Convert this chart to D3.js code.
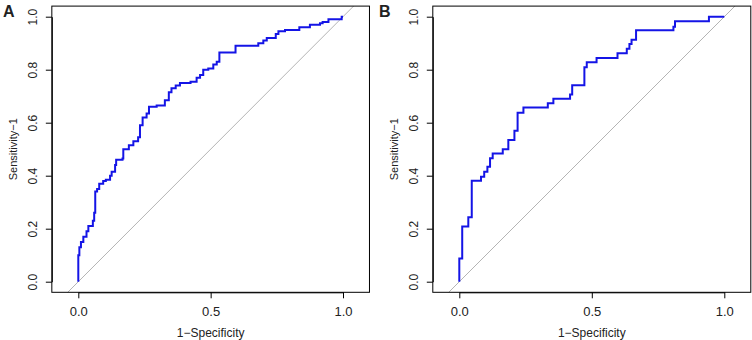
<!DOCTYPE html>
<html><head><meta charset="utf-8">
<script src="https://cdn.jsdelivr.net/npm/d3@7"></script>
<style>body{margin:0;background:#fff}svg{display:block}text{font-family:"Liberation Sans",Arial,sans-serif;fill:#222}</style>
</head><body>
<script>
// Panel A ROC points (1-Specificity, Sensitivity)
const fprA = [0,0,0.004,0.010,0.019,0.031,0.038,0.055,0.060,0.064,0.071,0.079,0.094,0.104,0.120,0.126,0.139,0.143,0.167,0.170,0.191,0.208,0.226,0.233,0.243,0.258,0.267,0.296,0.327,0.342,0.352,0.368,0.384,0.424,0.447,0.460,0.472,0.491,0.510,0.523,0.533,0.594,0.680,0.699,0.712,0.746,0.756,0.781,0.835,0.875,0.913,0.923,0.945,0.995,1];
const tprA = [0,0.10,0.13,0.15,0.17,0.19,0.21,0.23,0.26,0.34,0.35,0.37,0.38,0.385,0.40,0.415,0.44,0.46,0.465,0.50,0.515,0.53,0.545,0.59,0.62,0.635,0.66,0.665,0.685,0.715,0.73,0.74,0.75,0.755,0.77,0.78,0.80,0.805,0.82,0.83,0.865,0.89,0.90,0.91,0.92,0.935,0.945,0.95,0.96,0.97,0.975,0.98,0.99,1.0,1];
// Panel B ROC points
const fprB = [0,0,0.011,0.034,0.047,0.082,0.094,0.106,0.116,0.126,0.164,0.185,0.208,0.220,0.242,0.334,0.355,0.418,0.426,0.472,0.481,0.518,0.597,0.632,0.642,0.650,0.667,0.808,0.814,0.942,1];
const tprB = [0,0.088,0.208,0.243,0.381,0.396,0.415,0.434,0.466,0.484,0.50,0.535,0.57,0.638,0.657,0.673,0.69,0.706,0.741,0.809,0.828,0.844,0.862,0.879,0.897,0.913,0.949,0.962,0.983,1.0,1];
const xTicks = [0,0.5,1];
const yTicks = [0,0.2,0.4,0.6,0.8,1.0];
const panelLabels = ["A","B"];
const xTitle = "1\u2212Specificity";
const yTitle = "Sensitivity\u22121";

const W = 752, H = 340;
const svg = d3.select("body").append("svg").attr("width",W).attr("height",H);

const panels = [
  {label:panelLabels[0], fpr:fprA, tpr:tprA, ox:0, x0:78.3, x1:343.0},
  {label:panelLabels[1], fpr:fprB, tpr:tprB, ox:376, x0:459.3, x1:724.3}
];

panels.forEach((p,i)=>{
  const x = d3.scaleLinear().domain([0,1]).range([p.x0,p.x1]);
  const y = d3.scaleLinear().domain([0,1]).range([281.7,16.7]);
  const bx0 = x(-0.1), bx1 = x(1.1), by0 = y(-0.04), by1 = y(1.04);
  const g = svg.append("g");
  const cid = "clip"+i;
  g.append("clipPath").attr("id",cid).append("rect")
    .attr("x",bx0).attr("y",by1).attr("width",bx1-bx0).attr("height",by0-by1);
  // diagonal
  g.append("line").attr("clip-path",`url(#${cid})`)
    .attr("x1",x(-0.2)).attr("y1",y(-0.2)).attr("x2",x(1.2)).attr("y2",y(1.2))
    .attr("stroke","#b4b4b4").attr("stroke-width",1);
  // curve
  const pts = p.fpr.map((f,k)=>[f,p.tpr[k]]);
  g.append("path").datum(pts)
    .attr("d", d3.line().x(d=>x(d[0])).y(d=>y(d[1])).curve(d3.curveStepAfter))
    .attr("fill","none").attr("stroke","#1414e6").attr("stroke-width",2);
  // box
  g.append("rect").attr("x",bx0).attr("y",by1).attr("width",bx1-bx0).attr("height",by0-by1)
    .attr("fill","none").attr("stroke","#000").attr("stroke-width",1);
  // x axis
  const xa = g.append("g").attr("transform",`translate(0,${by0})`)
    .call(d3.axisBottom(x).tickValues(xTicks).tickFormat(d3.format(".1f")).tickSize(6).tickSizeOuter(0));
  xa.selectAll("text").attr("font-size","13px").attr("font-family","Liberation Sans, Arial, sans-serif").attr("fill","#222").attr("dy","0").attr("y",24);
  xa.selectAll("line,path").attr("stroke","#000");
  // y axis
  const ya = g.append("g").attr("transform",`translate(${bx0},0)`)
    .call(d3.axisLeft(y).tickValues(yTicks).tickFormat(d3.format(".1f")).tickSize(6).tickSizeOuter(0));
  ya.selectAll("text").attr("font-size","12px").attr("font-family","Liberation Sans, Arial, sans-serif").attr("fill","#222")
    .attr("text-anchor","middle").attr("x",0).attr("dy","0")
    .attr("transform","translate(-15,0) rotate(-90)").attr("y",0);
  ya.selectAll("line,path").attr("stroke","#000");
  // titles
  g.append("text").attr("x",x(0.5)).attr("y",337).attr("text-anchor","middle")
    .attr("font-size","12px").text(xTitle);
  g.append("text").attr("transform",`translate(${bx0-35},${(by0+by1)/2}) rotate(-90)`)
    .attr("text-anchor","middle").attr("font-size","11px").text(yTitle);
  // panel label
  g.append("text").attr("x",p.ox+3).attr("y",17).attr("font-size","16px").attr("font-weight","bold")
    .attr("fill","#000").text(p.label);
});
</script>
</body></html>
